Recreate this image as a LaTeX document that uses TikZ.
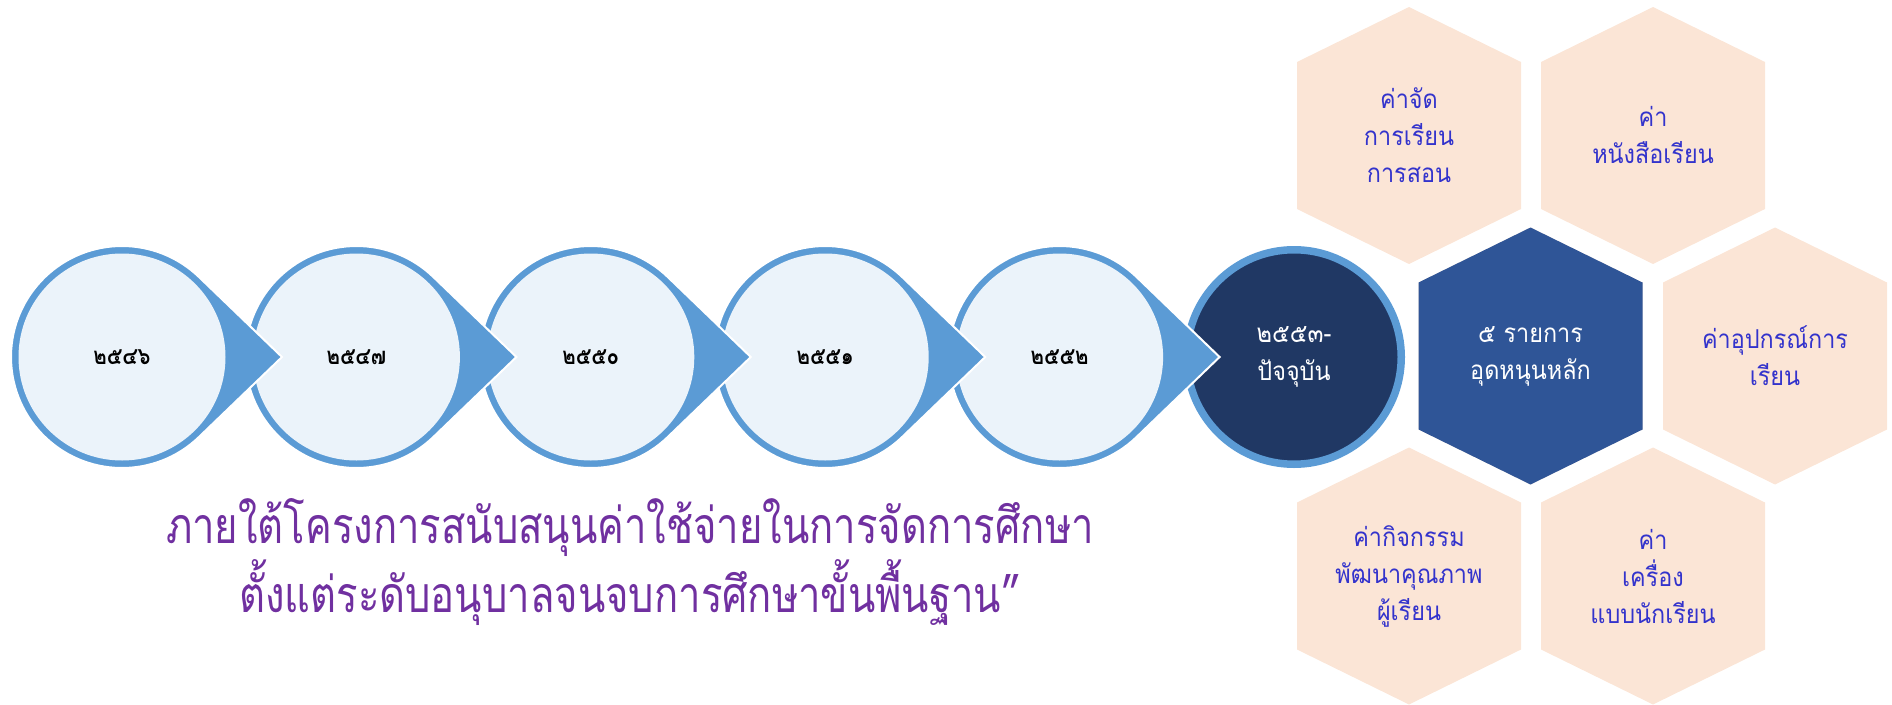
\documentclass[tikz,border=0pt]{standalone}
\usepackage{fontspec}
\newfontfamily\thaifont[Script=Thai,FakeStretch=0.9]{Loma}
\newfontfamily\yearfont[Script=Thai,FakeStretch=0.85]{Loma}
\newfontfamily\titlefont[Script=Thai,FakeStretch=0.8]{Loma}
\definecolor{ringblue}{HTML}{5B9BD5}
\definecolor{paleblue}{HTML}{EBF3FA}
\definecolor{nowblue}{HTML}{203864}
\definecolor{corehex}{HTML}{2F5597}
\definecolor{peach}{HTML}{FBE5D6}
\definecolor{itemtext}{HTML}{3333CC}
\definecolor{titletext}{HTML}{7030A0}
\tikzset{
  yearlabel/.style={font=\yearfont\bfseries\fontsize{24}{30}\selectfont,text=black},
  nowlabel/.style={font=\thaifont\fontsize{26}{38}\selectfont,text=white,align=center},
  itemlabel/.style={font=\thaifont\fontsize{26}{37}\selectfont,text=itemtext,align=center},
  corelabel/.style={font=\thaifont\fontsize{26}{37}\selectfont,text=white,align=center},
  titlelabel/.style={font=\titlefont\fontsize{50}{70}\selectfont,text=titletext,align=center},
  hexcell/.style={fill=peach}
}
\begin{document}
\begin{tikzpicture}[x=1pt,y=-1pt]
\useasboundingbox (0,0) rectangle (1892,704);
\filldraw[fill=nowblue,draw=ringblue,line width=7.5] (1294,357) circle[radius=107.25];
\node[nowlabel] (now) at (1294,357) {๒๕๕๓-\\ปัจจุบัน};
\foreach \i/\yr in {5/๒๕๕๒,4/๒๕๕๑,3/๒๕๕๐,2/๒๕๔๗,1/๒๕๔๖} {
  \pgfmathsetmacro\cx{122+234.4*(\i-1)}
  \begin{scope}[shift={(\cx,357)}]
    \filldraw[fill=ringblue,draw=white,line width=2] (160,0) -- (46.07:111) arc[start angle=46.07,end angle=313.93,radius=111] -- cycle;
    \fill[paleblue] (0,0) circle[radius=103.5];
    \node[yearlabel] (yr\i) at (0,0) {\yr};
  \end{scope}
}
\foreach \hx/\hy/\hname in {1409/135.5/hexA,1653/135.5/hexB,1530.5/356/hexC,1775/356/hexD,1409/576/hexE,1653/576/hexF} {
  \begin{scope}[shift={(\hx,\hy)}]
    \fill[hexcell] (0,-128.5) -- (112,-73.5) -- (112,73.5) -- (0,128.5) -- (-112,73.5) -- (-112,-73.5) -- cycle;
    \coordinate (\hname) at (0,0);
  \end{scope}
}
\fill[corehex] (1530.5,227.5) -- (1642.5,282.5) -- (1642.5,429.5) -- (1530.5,484.5) -- (1418.5,429.5) -- (1418.5,282.5) -- cycle;
\node[itemlabel] (teach) at (hexA) {ค่าจัด\\การเรียน\\การสอน};
\node[itemlabel] (books) at (hexB) {ค่า\\หนังสือเรียน};
\node[corelabel] (core) at (hexC) {๕ รายการ\\อุดหนุนหลัก};
\node[itemlabel] (tools) at (hexD) {ค่าอุปกรณ์การ\\เรียน};
\node[itemlabel] (acts) at (hexE) {ค่ากิจกรรม\\พัฒนาคุณภาพ\\ผู้เรียน};
\node[itemlabel] (dress) at (hexF) {ค่า\\เครื่อง\\แบบนักเรียน};
\node[titlelabel] (title) at (630,562) {ภายใต้โครงการสนับสนุนค่าใช้จ่ายในการจัดการศึกษา\\ตั้งแต่ระดับอนุบาลจนจบการศึกษาขั้นพื้นฐาน”};
\end{tikzpicture}
\end{document}
